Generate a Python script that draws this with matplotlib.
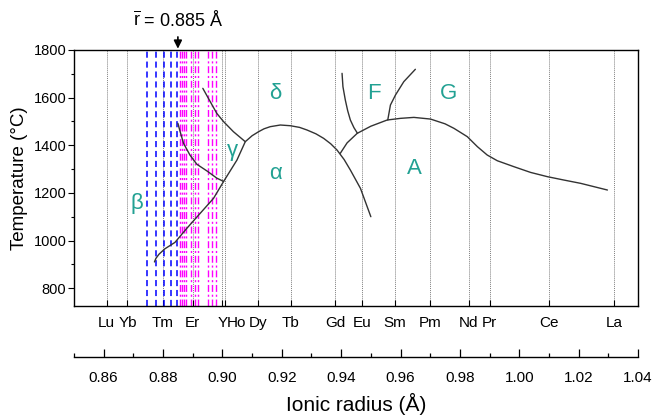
import matplotlib
matplotlib.use('Agg')
import matplotlib.pyplot as plt
import matplotlib.transforms as mtransforms
from matplotlib.ticker import MultipleLocator

plt.rcParams['font.family'] = ['Liberation Sans', 'DejaVu Sans']
plt.rcParams['mathtext.fontset'] = 'custom'
plt.rcParams['mathtext.rm'] = 'Liberation Sans'
plt.rcParams['mathtext.it'] = 'Liberation Sans:italic'

# ---------------- data ----------------
elements = ['Lu', 'Yb', 'Tm', 'Er', 'Y', 'Ho', 'Dy', 'Tb', 'Gd', 'Eu', 'Sm',
            'Pm', 'Nd', 'Pr', 'Ce', 'La']
radii = [0.861, 0.868, 0.880, 0.890, 0.900, 0.901, 0.912, 0.923, 0.938,
         0.947, 0.958, 0.970, 0.983, 0.990, 1.010, 1.032]

blue_radii = [0.8747, 0.8775, 0.8803, 0.8828, 0.8848]
magenta_radii = [0.8856, 0.8864, 0.8871, 0.8878, 0.8894, 0.8906, 0.8917,
                 0.8953, 0.8965, 0.8979]

# beta / alpha lower boundary + alpha/delta dome
c1_x = [0.8771, 0.8776, 0.8786, 0.8806, 0.8840, 0.8880, 0.8925, 0.8970,
        0.9004, 0.9049, 0.9077, 0.9100, 0.9122, 0.9140, 0.9161, 0.9195,
        0.9229, 0.9260, 0.9285, 0.9315, 0.9341, 0.9365, 0.9386, 0.9410,
        0.9431, 0.9465, 0.9500]
c1_t = [910, 925, 942, 965, 992, 1051, 1114, 1177, 1248, 1338, 1415, 1440,
        1457, 1469, 1478, 1485, 1482, 1475, 1464, 1448, 1429, 1406, 1380,
        1340, 1296, 1219, 1100]
# beta / gamma boundary
c2_x = [0.8850, 0.8856, 0.8869, 0.8891, 0.8914, 0.8948, 0.8981, 0.9004]
c2_t = [1492, 1464, 1408, 1358, 1320, 1292, 1262, 1248]
# delta / gamma boundary
c3_x = [0.8934, 0.8959, 0.8981, 0.9004, 0.9037, 0.9077]
c3_t = [1639, 1583, 1534, 1499, 1457, 1415]
# A upper boundary
c4_x = [0.9397, 0.9420, 0.9454, 0.9500, 0.9555, 0.9600, 0.9645, 0.9701,
        0.9750, 0.9780, 0.9825, 0.9859, 0.9892, 0.9926, 0.9982, 1.0038,
        1.0095, 1.0150, 1.0207, 1.0297]
c4_t = [1366, 1410, 1450, 1480, 1506, 1513, 1517, 1510, 1490, 1471, 1436,
        1394, 1359, 1335, 1310, 1286, 1268, 1254, 1240, 1212]
# F / alpha boundary
c5_x = [0.9403, 0.9406, 0.9414, 0.9422, 0.9431, 0.9443, 0.9455]
c5_t = [1702, 1646, 1590, 1545, 1506, 1474, 1450]
# F / G boundary
c6_x = [0.9557, 0.9566, 0.9583, 0.9611, 0.9650]
c6_t = [1506, 1569, 1611, 1667, 1719]

phase_labels = ['δ', 'γ', 'α', 'β', 'A', 'F', 'G']
phase_x = [0.9178, 0.9033, 0.9178, 0.8713, 0.9647, 0.9509, 0.9762]
phase_t = [1619, 1380, 1283, 1157, 1304, 1619, 1619]

temp_ticks = [800, 1000, 1200, 1400, 1600, 1800]
radius_ticks = [0.86, 0.88, 0.90, 0.92, 0.94, 0.96, 0.98, 1.00, 1.02, 1.04]
radius_ticklabels = ['0.86', '0.88', '0.90', '0.92', '0.94', '0.96', '0.98',
                     '1.00', '1.02', '1.04']
r_mean = 0.885

# ---------------- figure ----------------
W, H = 654, 415
fig = plt.figure(figsize=(W / 100, H / 100), dpi=100)
ax = fig.add_axes([74 / W, 1 - 306 / H, (638 - 74) / W, (306 - 50) / H])
ax.set_xlim(0.85, 1.04)
ax.set_ylim(725, 1800)

for r in radii:
    ax.axvline(r, color='#808080', lw=0.7, ls=(0, (1, 1)), zorder=1)
for r in blue_radii:
    ax.axvline(r, color='#0000ff', lw=1.1, ls=(0, (4, 2.5)), zorder=2)
for r in magenta_radii:
    ax.axvline(r, color='#ff00ff', lw=1.0, ls=(0, (5, 2, 1.5, 2)), zorder=2)

for xs, ts in [(c1_x, c1_t), (c2_x, c2_t), (c3_x, c3_t), (c4_x, c4_t),
               (c5_x, c5_t), (c6_x, c6_t)]:
    ax.plot(xs, ts, color='#333333', lw=1.0, zorder=3,
            solid_joinstyle='round', solid_capstyle='round')

teal = '#22a193'
for lab, x, t in zip(phase_labels, phase_x, phase_t):
    ax.text(x, t, lab, color=teal, fontsize=16, ha='center', va='center', zorder=4)

ax.set_xticks(radii, labels=elements)
ax.tick_params(axis='x', direction='in', length=4, width=0.8, labelsize=11, pad=7)
ax.set_yticks(temp_ticks)
ax.yaxis.set_minor_locator(MultipleLocator(100))
ax.tick_params(axis='y', which='major', direction='out', length=4, width=0.8,
               labelsize=10.5, pad=1.5)
ax.tick_params(axis='y', which='minor', direction='out', length=2.5, width=0.8)
ax.set_ylabel('Temperature (°C)', fontsize=13.5, labelpad=4)
for s in ax.spines.values():
    s.set_linewidth(1.0)

# shift Ho label to the right of Y
labs = ax.get_xticklabels()
ho = labs[elements.index('Ho')]
ho.set_transform(ho.get_transform() +
                 mtransforms.ScaledTranslation(11 / 100, 0, fig.dpi_scale_trans))

# arrow and mean radius annotation
ax.annotate(r'$\overline{\mathrm{r}}$ = 0.885 Å', xy=(r_mean, 1.005),
            xycoords=('data', 'axes fraction'),
            xytext=(r_mean, 1 - 20 / H), textcoords=('data', 'figure fraction'),
            ha='center', va='center', fontsize=13,
            arrowprops=dict(arrowstyle='-|>', color='black', lw=1.2,
                            shrinkA=3, shrinkB=0, mutation_scale=12))

# secondary ionic radius axis
ax2 = fig.add_axes([74 / W, 1 - 357 / H, (638 - 74) / W, 0.0001])
ax2.set_facecolor('none')
for s in ['top', 'left', 'right']:
    ax2.spines[s].set_visible(False)
ax2.spines['bottom'].set_linewidth(1.0)
ax2.set_yticks([])
ax2.set_xlim(0.85, 1.04)
ax2.set_xticks(radius_ticks, labels=radius_ticklabels)
ax2.xaxis.set_minor_locator(MultipleLocator(0.01))
ax2.tick_params(axis='x', which='major', direction='in', length=6, width=0.9,
                labelsize=11, pad=10)
ax2.tick_params(axis='x', which='minor', direction='in', length=3, width=0.9)
ax2.set_xlabel('Ionic radius (Å)', fontsize=15, labelpad=6)

fig.savefig('out.png', dpi=100)
